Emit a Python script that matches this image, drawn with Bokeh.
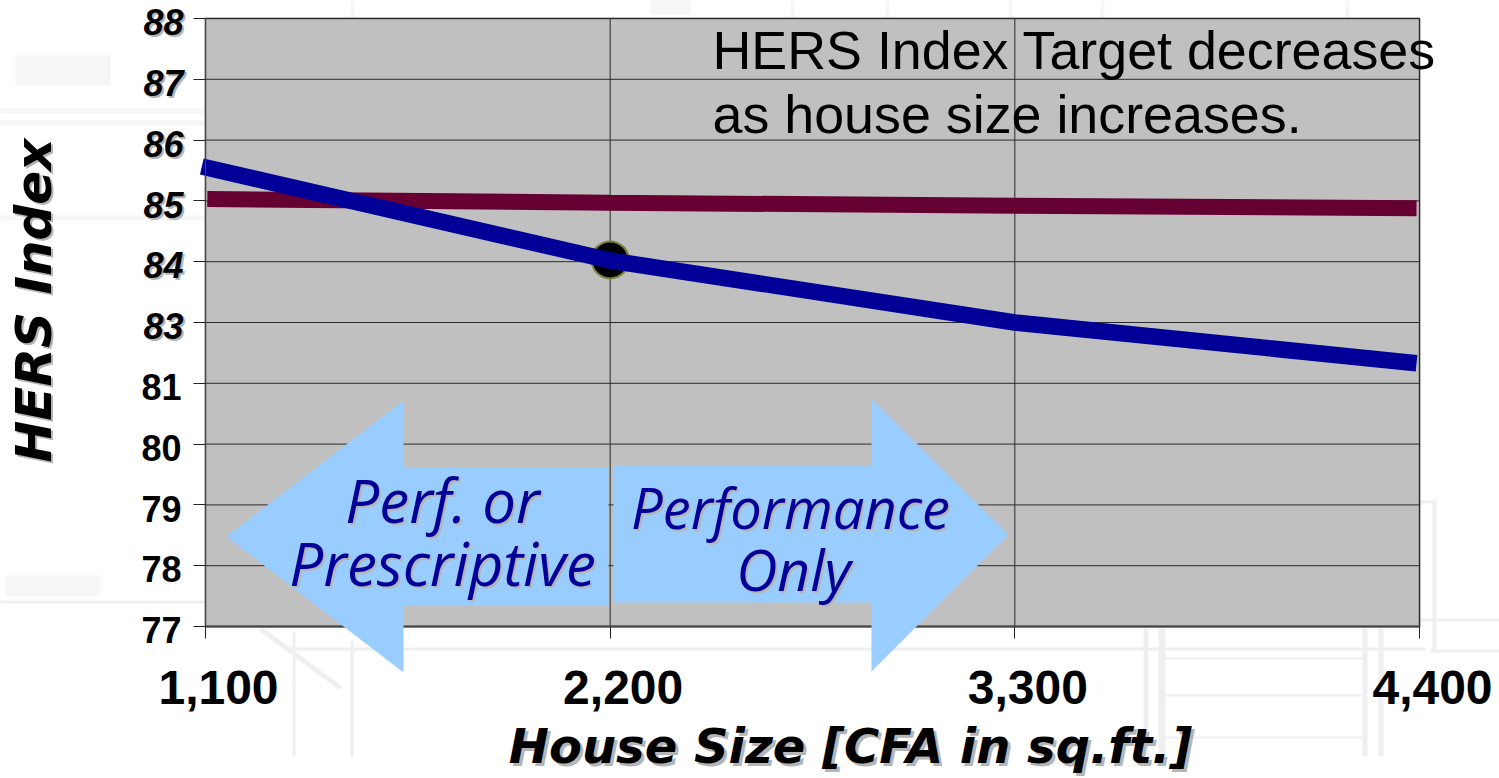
from bokeh.plotting import figure
from bokeh.models import Range1d, FixedTicker, Label, PolyAnnotation, LinearAxis
from bokeh.embed import file_html
from bokeh.resources import INLINE
import math

# ---------- data ----------
house_size = [1100, 2200, 3300, 4400]
x_tick_labels = ["1,100", "2,200", "3,300", "4,400"]
y_tick_labels = ["77", "78", "79", "80", "81", "83", "84", "85", "86", "87", "88"]
target_x = [1090, 2200, 3300, 4392]
target_line = [7.566, 6.02, 5.0, 4.33]        # axis steps above the "77" tick (blue)
standard_x = [1105, 2200, 3300, 4392]
standard_line = [7.03, 6.97, 6.92, 6.88]      # axis steps above the "77" tick (maroon)
marker_x = [2200]
marker_y = [6.03]

# ---------- layout ----------
OFF = 8                       # the canvas starts this far outside the photographed page
W, H = 1499 + OFF, 778 + OFF
L, T, FW, FH = 205 + OFF, 18 + OFF, 1214, 608
x_per_px = (house_size[-1] - house_size[0]) / FW
y_steps = len(y_tick_labels) - 1
y_per_px = y_steps / FH
x_start = house_size[0] - L * x_per_px
y_start = -(H - T - FH) * y_per_px
GRID = "#2b2b2b"
COMIC = "DejaVu Sans"
SHADOW = "#b5b5b5"
BASE_SHIFT = 0.37             # Label's alphabetic baseline sits this many font sizes low

p = figure(width=W, height=H, output_backend="svg", toolbar_location=None,
           x_range=Range1d(x_start, x_start + W * x_per_px),
           y_range=Range1d(y_start, y_start + H * y_per_px),
           x_axis_location=None, y_axis_location=None,
           min_border_left=0, min_border_top=0, min_border_right=0, min_border_bottom=0,
           background_fill_color="#ffffff", border_fill_color="#ffffff",
           outline_line_color=None,
           margin=(-8, 0, -8, -8))
p.grid.visible = False

y_ticks = list(range(len(y_tick_labels)))

def poly(points, color, level):
    p.add_layout(PolyAnnotation(xs=[a + OFF for a, _ in points], ys=[H - b - OFF for _, b in points],
                                xs_units="screen", ys_units="screen",
                                fill_color=color, fill_alpha=1, line_color=None, level=level))

# ---------- faint architectural drawing behind the chart ----------
faint_strong = [
    (292, 632, 295, 756), (350, 640, 353, 756), (290, 647, 1425, 650), (1430, 649, 1499, 652),
    (1143, 628, 1148, 756), (1158, 628, 1165, 756), (1362, 628, 1367, 756),
    (1378, 628, 1383, 756), (1165, 657, 1362, 659), (1165, 694, 1362, 696),
    (1165, 736, 1362, 738), (1432, 500, 1436, 650), (1420, 500, 1436, 503),
    (0, 600, 205, 603), (1419, 618, 1499, 621),
]
faint_soft = [
    (5, 575, 100, 596), (0, 108, 205, 113), (0, 120, 205, 125),
    (15, 55, 110, 85), (0, 215, 205, 220), (790, 0, 794, 18), (885, 0, 889, 18),
    (1008, 0, 1012, 18), (1100, 0, 1104, 18), (1345, 0, 1349, 18), (350, 0, 354, 18),
    (650, 0, 690, 14),
]
for x0, y0, x1, y1 in faint_strong:
    poly([(x0, y0), (x1, y0), (x1, y1), (x0, y1)], "#efefef", "image")
for x0, y0, x1, y1 in faint_soft:
    poly([(x0, y0), (x1, y0), (x1, y1), (x0, y1)], "#f6f6f6", "image")
poly([(258, 630), (262, 627), (342, 686), (338, 689)], "#efefef", "image")

# ---------- plot area and grid ----------
p.quad(left=[house_size[0]], right=[house_size[-1]], bottom=[y_ticks[0]], top=[y_ticks[-1]],
       fill_color="#C0C0C0", line_color="#808080", line_width=2, level="underlay")
p.segment(x0=house_size, x1=house_size, y0=[y_ticks[0]] * 4, y1=[y_ticks[-1]] * 4,
          line_color=GRID, line_width=1, level="underlay")
p.segment(x0=[house_size[0]] * len(y_ticks), x1=[house_size[-1]] * len(y_ticks), y0=y_ticks, y1=y_ticks,
          line_color=GRID, line_width=1, level="underlay")

# ---------- axes ----------
xax = LinearAxis(fixed_location=y_ticks[0], bounds=(house_size[0], house_size[-1]),
                 ticker=FixedTicker(ticks=house_size))
yax = LinearAxis(fixed_location=house_size[0], bounds=(y_ticks[0], y_ticks[-1]),
                 ticker=FixedTicker(ticks=y_ticks))
for ax in (xax, yax):
    ax.major_label_text_font_size = "0px"
    ax.major_label_text_color = None
    ax.major_tick_in = 0
    ax.major_tick_out = 12
    ax.minor_tick_line_color = None
    ax.major_tick_line_color = "#222222"
    ax.major_tick_line_width = 1
    ax.axis_line_color = "#444444"
xax.axis_line_width = 2
p.add_layout(xax, "below")
p.add_layout(yax, "left")

# ---------- series ----------
p.scatter(marker_x, marker_y, size=37, marker="circle", fill_color="#000000",
          line_color="#808040", line_width=2)
p.line(standard_x, standard_line, line_color="#660033", line_width=16, line_cap="butt")
p.line(target_x, target_line, line_color="#000099", line_width=16.5, line_cap="butt", line_join="round")

# ---------- arrows ----------
left_arrow = [(226, 536), (403, 400), (403, 467), (608, 467), (608, 605), (403, 605), (403, 672)]
right_arrow = [(613, 465), (871, 465), (871, 398), (1008, 534), (871, 671), (871, 602), (613, 602)]
poly(left_arrow, "#99CCFF", "annotation")
poly(right_arrow, "#99CCFF", "annotation")

# ---------- text ----------
def text(s, px, py, size, font="Liberation Sans", color="#000000", style="normal",
         align="left", angle=0, shadow=None, level="overlay"):
    dx = BASE_SHIFT * size * math.sin(angle)
    dy = BASE_SHIFT * size * math.cos(angle)
    px, py = px - dx, py - dy
    if shadow:
        p.add_layout(Label(x=px + shadow + OFF, y=H - py - shadow - OFF, x_units="screen", y_units="screen",
                           text=s, text_font=font,
                           text_font_size=f"{size}px", text_color=SHADOW, text_font_style=style,
                           text_align=align, text_baseline="alphabetic", angle=angle, level=level))
    p.add_layout(Label(x=px + OFF, y=H - py - OFF, x_units="screen", y_units="screen",
                       text=s, text_font=font,
                       text_font_size=f"{size}px", text_color=color, text_font_style=style,
                       text_align=align, text_baseline="alphabetic", angle=angle, level=level))

for i, lab in enumerate(y_tick_labels):
    py = 18 + FH - i * FH / y_steps
    if int(lab) >= 83:
        text(lab, 183, py + 17, 36, style="bold italic", align="right", shadow=2)
    else:
        text(lab, 181, py + 17, 36, style="bold", align="right")

for xv, lab in zip(house_size, x_tick_labels):
    px = 205 + (xv - house_size[0]) / x_per_px
    text(lab, px + 13, 705, 48, style="bold", align="center")

text("HERS Index", 52, 300, 50, font=COMIC, style="bold italic", align="center", angle=math.pi / 2, shadow=2)
text("House Size [CFA in sq.ft.]", 850, 763, 48, font=COMIC, style="bold italic", align="center", shadow=3)

text("HERS Index Target decreases", 712, 69, 53.8)
text("as house size increases.", 712, 133, 53.8)

ARROW_FONT = "Open Sans"
NAVY = "#000099"
text("Perf. or", 442, 522, 60, font=ARROW_FONT, style="italic", color=NAVY, align="center", shadow=2)
text("Prescriptive", 442, 585, 60, font=ARROW_FONT, style="italic", color=NAVY, align="center", shadow=2)
text("Performance", 790, 527, 56, font=ARROW_FONT, style="italic", color=NAVY, align="center", shadow=2)
text("Only", 793, 590, 57, font=ARROW_FONT, style="italic", color=NAVY, align="center", shadow=2)

open("out.html", "w").write(file_html(p, INLINE))
